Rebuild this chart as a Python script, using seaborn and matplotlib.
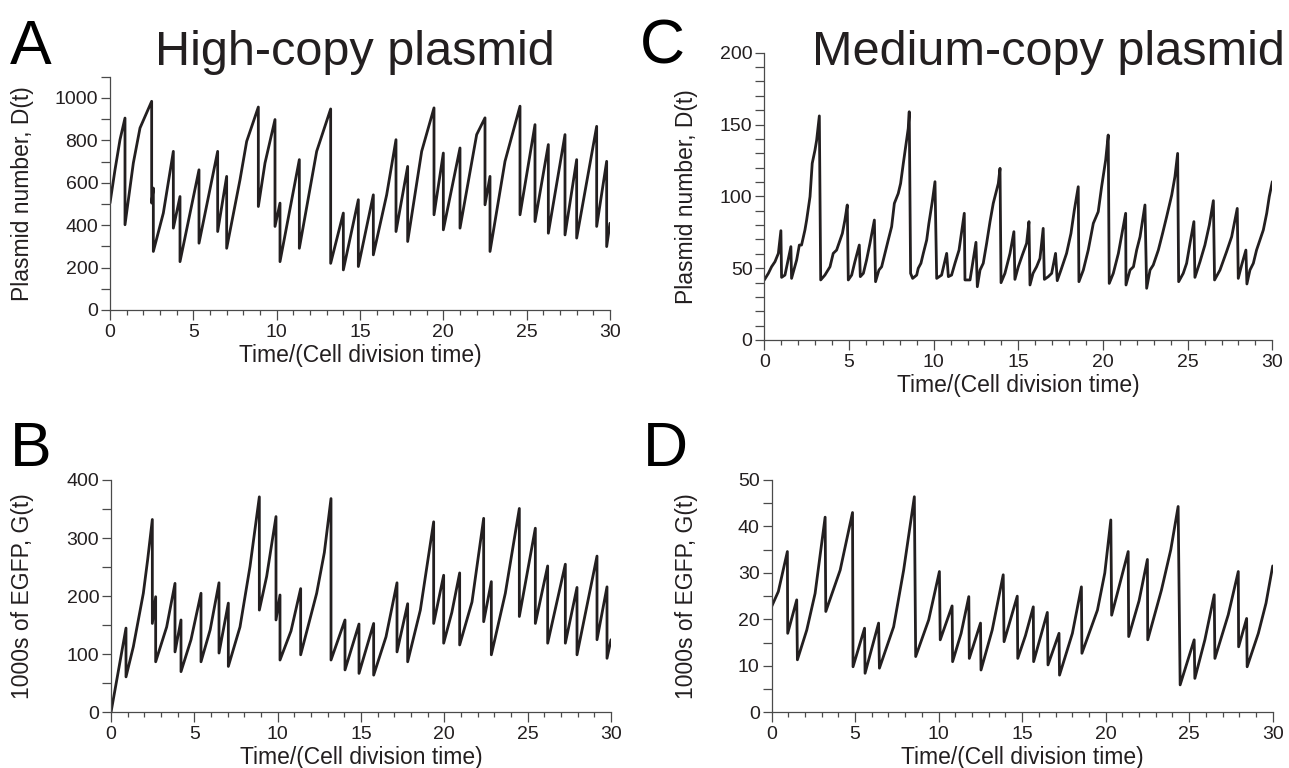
import matplotlib
matplotlib.use("Agg")
import matplotlib.pyplot as plt
from matplotlib.ticker import MultipleLocator
import pandas as pd
import seaborn as sns

# ---- data (time in cell division times) ----
high_D_time = [0, 0.3, 0.6, 0.9, 0.9, 1.4, 1.8, 2.5, 2.5, 2.6, 2.6, 3.2, 3.8, 3.8, 4.2, 4.2,
               5.34, 5.34, 6.46, 6.46, 7.0, 7.0, 7.8, 8.2, 8.9, 8.9, 9.3, 9.9, 9.9, 10.2, 10.2,
               11.36, 11.36, 12.4, 13.24, 13.24, 14.0, 14.0, 14.9, 14.9, 15.8, 15.8, 16.6, 17.16,
               17.16, 17.86, 17.86, 18.7, 19.44, 19.44, 20.0, 20.0, 21.0, 21.0, 22.0, 22.5, 22.5,
               22.8, 22.8, 23.7, 24.6, 24.6, 25.5, 25.5, 26.3, 26.3, 27.3, 27.3, 28.0, 28.0,
               29.2, 29.2, 29.8, 29.8, 30.0]
high_D_value = [504, 661, 803, 905, 402, 693, 858, 984, 504, 575, 276, 457, 748, 386, 535, 228,
                661, 315, 748, 370, 630, 291, 614, 795, 957, 488, 693, 898, 394, 504, 228,
                709, 291, 748, 948, 220, 457, 189, 520, 205, 543, 260, 543, 803,
                370, 677, 323, 748, 953, 449, 740, 378, 764, 386, 827, 906, 496,
                630, 276, 701, 961, 449, 874, 417, 780, 362, 827, 354, 709, 339,
                866, 394, 701, 299, 409]

high_G_time = [0, 0.9, 0.9, 1.34, 1.94, 2.2, 2.48, 2.48, 2.68, 2.68, 3.34, 3.84, 3.84, 4.2, 4.2,
               4.8, 5.4, 5.4, 5.95, 6.48, 6.48, 7.04, 7.04, 7.74, 8.34, 8.9, 8.9, 9.34, 9.9, 9.9,
               10.14, 10.14, 10.8, 11.38, 11.38, 12.34, 12.8, 13.2, 13.2, 14.04, 14.04, 14.88,
               14.88, 15.76, 15.76, 16.5, 17.16, 17.16, 17.8, 17.8, 18.56, 19.36, 19.36, 19.96,
               19.96, 20.45, 20.92, 20.92, 21.66, 22.36, 22.36, 22.82, 22.82, 23.66, 24.5, 24.5,
               25.46, 25.46, 26.2, 26.2, 27.26, 27.26, 27.96, 27.96, 29.16, 29.16, 29.76, 29.76,
               30.0]
high_G_value = [0, 145, 61, 113, 205, 263, 332, 153, 199, 87, 147, 222, 104, 159, 70,
                125, 205, 87, 142, 223, 102, 188, 79, 147, 251, 371, 176, 234, 337, 159,
                202, 90, 140, 213, 99, 205, 275, 368, 90, 159, 73, 152,
                67, 153, 64, 130, 223, 104, 187, 87, 176, 328, 153, 236,
                119, 172, 240, 116, 190, 334, 156, 225, 99, 205, 351, 165,
                317, 153, 252, 119, 255, 119, 215, 99, 269, 125, 216, 93,
                125]

med_D_time = [0, 0.24, 0.43, 0.63, 0.83, 0.98, 1.02, 1.22, 1.57, 1.61, 1.91, 2.07, 2.2, 2.4,
              2.5, 2.7, 2.83, 2.99, 3.09, 3.25, 3.33, 3.58, 3.88, 4.07, 4.27, 4.41, 4.61, 4.76,
              4.9, 4.96, 5.16, 5.35, 5.61, 5.67, 5.85, 6.04, 6.24, 6.5, 6.57, 6.77, 6.93, 7.17,
              7.32, 7.52, 7.68, 7.91, 8.05, 8.21, 8.35, 8.5, 8.56, 8.64, 8.76, 9.0, 9.09, 9.25,
              9.39, 9.59, 9.72, 9.92, 10.08, 10.18, 10.47, 10.77, 10.87, 11.06, 11.26, 11.5,
              11.81, 11.85, 12.15, 12.5, 12.58, 12.74, 12.93, 13.13, 13.33, 13.52, 13.82, 13.92,
              13.98, 14.21, 14.51, 14.74, 14.8, 15.0, 15.24, 15.49, 15.63, 15.69, 15.87, 16.08,
              16.28, 16.47, 16.54, 16.77, 16.97, 17.2, 17.3, 17.52, 17.85, 18.11, 18.31, 18.54,
              18.58, 18.84, 19.13, 19.43, 19.72, 19.92, 20.16, 20.31, 20.37, 20.61, 20.91, 21.34,
              21.36, 21.6, 21.8, 21.99, 22.19, 22.48, 22.58, 22.78, 22.97, 23.27, 23.52, 23.76,
              24.06, 24.25, 24.41, 24.47, 24.74, 24.94, 25.14, 25.37, 25.43, 25.73, 26.02, 26.28,
              26.52, 26.59, 26.91, 27.3, 27.6, 27.93, 27.99, 28.19, 28.44, 28.5, 28.68, 28.88,
              29.07, 29.27, 29.47, 29.67, 29.82, 30.0]
med_D_value = [41.8, 46.4, 51, 54.5, 60.3, 76.1, 43.6, 45.2, 65, 42.9, 55.7, 66.1, 66.1, 76.6,
               83.5, 99.8, 123, 132, 139, 156, 41.8, 45.2, 51, 60.3, 62.6, 67.3, 74.2, 83.5,
               94, 41.8, 45.2, 54.5, 66.1, 44.1, 46.4, 55.7, 67.3, 83.5, 40.6, 48.7, 51, 62.6,
               69.6, 78.9, 95.1, 102, 109, 123, 134.6, 147.3, 158.9, 46.4, 42.9, 45.2, 49.9, 53.4,
               60.3, 69.6, 81.2, 96.3, 110.2, 42.9, 45.2, 60.3, 44.1, 45.2, 53.4, 62.6,
               88.2, 41.8, 41.8, 68, 37.1, 48.7, 53.4, 67.3, 82.4, 95.1, 109, 119.5,
               39.9, 46.4, 60.3, 75.4, 42.2, 51, 59.2, 67.3, 82.4, 38.3, 46.4, 51,
               56.8, 77.7, 42.2, 44.1, 46.4, 60.3, 41.3, 48.7, 60.3, 74.2, 90.5, 106.7,
               40.6, 48.7, 62.6, 81.2, 89.3, 106.7, 125.3, 142.7, 39.4, 46.4, 60.3, 88.2,
               38.3, 48.7, 51, 62.6, 71.9, 94, 36, 48.7, 52.2, 62.6, 74.2, 85.8,
               100.9, 113.7, 129.9, 40.6, 46.4, 53.4, 67.3, 82.4, 43.6, 54.5, 66.1, 80,
               97, 41.8, 48.7, 61.5, 71.9, 91.6, 42.9, 52.2, 62.6, 39, 48.7, 53.4,
               62.6, 69.6, 76.6, 88.2, 99.8, 110.2]

med_G_time = [0, 0.41, 0.95, 0.97, 1.51, 1.55, 2.11, 2.61, 3.21, 3.25, 4.11, 4.85, 4.88, 5.57,
              5.6, 6.41, 6.46, 7.31, 7.91, 8.55, 8.63, 9.41, 10.05, 10.1, 10.81, 10.84, 11.35,
              11.81, 11.84, 12.51, 12.54, 13.21, 13.87, 13.92, 14.71, 14.74, 15.2, 15.67, 15.69,
              16.51, 16.55, 17.21, 17.24, 18.01, 18.55, 18.58, 19.51, 19.95, 20.31, 20.36, 21.35,
              21.38, 22.0, 22.5, 22.52, 23.34, 23.9, 24.34, 24.46, 25.3, 25.34, 25.94, 26.5,
              26.54, 27.34, 27.94, 27.96, 28.44, 28.47, 29.14, 29.6, 30.0]
med_G_value = [22.7, 26, 34.6, 17, 24.2, 11.3, 17.7, 25.6, 42, 21.7, 30.6, 43, 9.8, 18.1,
               8.4, 19.2, 9.5, 18.4, 30.6, 46.4, 12, 19.9, 30.3, 15.6, 22.9, 10.9, 17,
               24.9, 11.6, 19.2, 9.1, 17.7, 29.6, 15.2, 25, 11.6, 16.5, 22.7, 10.9,
               21.5, 10.2, 17, 8, 17, 27, 12.7, 22, 30, 41.4, 20.9, 34.6,
               16.3, 24, 32.9, 15.6, 26.3, 35, 44.3, 5.9, 15.6, 7.3, 15.6, 25.3,
               11.6, 21, 30.3, 14.1, 20.2, 9.8, 17, 23.5, 31.5]

ink = "#231f20"
axis_grey = "#4a4a4a"

sns.set_style("ticks")
plt.rcParams["font.family"] = ["Liberation Sans", "DejaVu Sans"]
tick_size, label_size = 14, 16.5

W, H = 1289, 768
fig = plt.figure(figsize=(W / 100, H / 100), dpi=100)


def rect(left, right, top, bottom):
    return [left / W, 1 - bottom / H, (right - left) / W, (bottom - top) / H]


def draw_panel(box, t, v, ymax, ymajor, yminor, ylabel, ylabel_x):
    ax = fig.add_axes(rect(*box))
    df = pd.DataFrame({"t": t, "v": v})
    sns.lineplot(data=df, x="t", y="v", ax=ax, sort=False, estimator=None,
                 color=ink, linewidth=2.0)
    ax.set_xlim(0, 30)
    ax.set_ylim(0, ymax)
    ax.xaxis.set_major_locator(MultipleLocator(5))
    ax.xaxis.set_minor_locator(MultipleLocator(1))
    ax.yaxis.set_major_locator(MultipleLocator(ymajor))
    ax.yaxis.set_minor_locator(MultipleLocator(yminor))
    sns.despine(ax=ax)
    for s in ("left", "bottom"):
        ax.spines[s].set_color(axis_grey)
        ax.spines[s].set_linewidth(0.9)
    ax.tick_params(axis="x", which="major", length=7, width=0.9, color=axis_grey,
                   labelsize=tick_size, labelcolor=ink, pad=3)
    ax.tick_params(axis="x", which="minor", length=3.5, width=0.9, color=axis_grey)
    ax.tick_params(axis="y", which="both", length=6.5, width=0.9, color=axis_grey,
                   labelsize=tick_size, labelcolor=ink, pad=2)
    ax.set_xlabel("Time/(Cell division time)", fontsize=label_size, color=ink, labelpad=2)
    ax.set_ylabel("")
    left, right, top, bottom = box
    fig.text(ylabel_x / W, 1 - (top + bottom) / 2 / H, ylabel, rotation=90,
             ha="center", va="center", fontsize=label_size, color=ink)
    return ax


draw_panel((110, 610, 76.7, 310), high_D_time, high_D_value, 1100, 200, 100,
           "Plasmid number, D(t)", 23)
draw_panel((111, 611, 480, 712.3), high_G_time, high_G_value, 400, 100, 50,
           "1000s of EGFP, G(t)", 23)
draw_panel((764.3, 1272.3, 52.7, 340), med_D_time, med_D_value, 200, 50, 10,
           "Plasmid number, D(t)", 687)
draw_panel((771.5, 1272.7, 480, 712.3), med_G_time, med_G_value, 50, 10, 5,
           "1000s of EGFP, G(t)", 687)

# panel letters and column titles
for letter, x, y in [("A", 10, 64), ("B", 10, 466), ("C", 640, 64), ("D", 643, 466)]:
    fig.text(x / W, 1 - y / H, letter, fontsize=45, color="black",
             va="baseline", ha="left")
fig.text(155 / W, 1 - 65 / H, "High-copy plasmid", fontsize=35, color=ink,
         va="baseline", ha="left")
fig.text(812 / W, 1 - 65 / H, "Medium-copy plasmid", fontsize=35, color=ink,
         va="baseline", ha="left")

fig.savefig("out.png", dpi=100)
